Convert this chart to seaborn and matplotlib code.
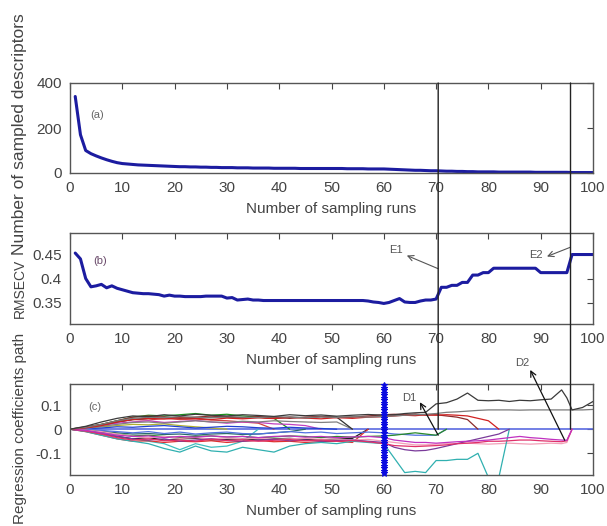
import numpy as np
import pandas as pd
import matplotlib
matplotlib.use("Agg")
import matplotlib.pyplot as plt
import seaborn as sns
from matplotlib.patches import ConnectionPatch

sns.set_theme(style="white")
plt.rcParams["font.family"] = ["Liberation Sans", "DejaVu Sans"]
plt.rcParams["axes.unicode_minus"] = False

# ---------------- data ----------------
runs = list(range(1, 101))

n_descriptors = [340, 170, 100, 86, 76, 67, 59, 52, 46, 42,
                 40, 38, 36, 35, 34, 33, 32, 31, 30, 29,
                 28, 28, 27, 27, 26, 26, 25, 25, 24, 24,
                 24, 23, 23, 23, 22, 22, 22, 22, 21, 21,
                 21, 21, 21, 20, 20, 20, 20, 20, 20, 20,
                 20, 20, 19, 19, 19, 19, 18, 18, 18, 18,
                 17, 16, 15, 14, 13, 12, 12, 11, 10, 10,
                 9, 8, 8, 7, 7, 6, 6, 5, 5, 5,
                 5, 4, 4, 4, 4, 4, 4, 4, 3, 3,
                 3, 3, 3, 3, 3, 2, 2, 2, 2, 2]

rmsecv = [0.452, 0.440, 0.400, 0.383, 0.385, 0.388, 0.381, 0.385, 0.380, 0.377,
          0.374, 0.371, 0.370, 0.369, 0.369, 0.368, 0.367, 0.364, 0.366, 0.364,
          0.364, 0.363, 0.363, 0.363, 0.363, 0.364, 0.364, 0.364, 0.364, 0.360,
          0.361, 0.356, 0.357, 0.358, 0.356, 0.356, 0.355, 0.355, 0.355, 0.355,
          0.355, 0.355, 0.355, 0.355, 0.355, 0.355, 0.355, 0.355, 0.355, 0.355,
          0.355, 0.355, 0.355, 0.355, 0.355, 0.355, 0.354, 0.352, 0.351, 0.349,
          0.351, 0.355, 0.359, 0.352, 0.351, 0.351, 0.354, 0.356, 0.356, 0.358,
          0.382, 0.382, 0.386, 0.386, 0.392, 0.392, 0.407, 0.407, 0.412, 0.412,
          0.421, 0.421, 0.421, 0.421, 0.421, 0.421, 0.421, 0.421, 0.421, 0.412,
          0.412, 0.412, 0.412, 0.412, 0.412, 0.449, 0.449, 0.449, 0.449, 0.449]

coef_runs = [0, 3, 6, 9, 12, 15, 18, 21, 24, 27, 30, 33, 36, 39, 42, 45, 48, 51, 54, 57, 60,
             62, 64, 66, 68, 70, 72, 74, 76, 78, 80, 82, 84, 86, 88, 90, 92, 94, 95, 96, 98, 100]

# surviving / late-eliminated coefficient paths
coef_a1 = [0, .012, .03, .045, .055, .052, .06, .055, .062, .058, .055, .06, .057, .053, .06, .056, .059, .054, .058, .061, .058,
           .06, .065, .068, .07, .105, .11, .125, .15, .12, .118, .12, .115, .12, .118, .122, .125, .163, .13, .08, .09, .115]
coef_a2 = [0, .008, .02, .035, .045, .05, .048, .052, .05, .047, .052, .05, .048, .052, .05, .047, .051, .049, .052, .05, .053,
           .055, .058, .06, .062, .065, .07, .072, .075, .078, .08, .08, .08, .079, .08, .08, .08, .08, .08, .08, .08, .082]
coef_a3 = [0, .005, .015, .03, .04, .045, .042, .048, .045, .04, .046, .043, .047, .044, .049, .046, .043, .048, .045, .05, .052,
           .055, .058, .056, .06, .058, .06, .058, .055, .045, .035, 0]
coef_a4 = [0, .01, .02, .035, .05, .055, .05, .045, .05, .055, .05, .047, .052, .05, .045, .05, .053, .048, .05, .055, .06,
           .062, .06, .063, .058, .06, .055, .05, .04, 0]
coef_b1 = [0, -.005, -.015, -.025, -.03, -.028, -.035, -.03, -.033, -.028, -.032, -.03, -.035, -.03, -.028, -.033, -.03, -.035, -.032, -.03, -.035,
           -.045, -.05, -.055, -.055, -.058, -.055, -.052, -.05, -.048, -.045, -.04, -.035, -.03, -.035, -.038, -.042, -.045, -.046, 0]
coef_b2 = [0, -.008, -.02, -.035, -.045, -.04, -.048, -.045, -.05, -.042, -.047, -.044, -.05, -.046, -.043, -.048, -.045, -.05, -.047, -.052, -.06,
           -.068, -.07, -.072, -.07, -.068, -.065, -.06, -.058, -.055, -.05, -.05, -.048, -.045, -.045, -.048, -.05, -.052, -.048, 0]
coef_b3 = [0, -.006, -.018, -.03, -.04, -.045, -.04, -.05, -.045, -.04, -.047, -.05, -.045, -.042, -.048, -.045, -.05, -.047, -.045, -.05, -.055,
           -.075, -.085, -.09, -.088, -.08, -.07, -.06, -.05, -.04, -.03, -.02, 0]
coef_b4 = [0, -.01, -.025, -.04, -.05, -.06, -.08, -.095, -.07, -.09, -.095, -.075, -.085, -.095, -.07, -.06, -.055, -.06, -.05, -.055, -.06,
           -.12, -.18, -.175, -.18, -.13, -.13, -.125, -.125, -.1, -.2, -.2, 0]
coef_b5 = [0, -.004, -.01, -.02, -.03, -.035, -.03, -.038, -.035, -.04, -.036, -.04, -.038, -.042, -.04, -.038, -.042, -.04, -.045, -.042, -.05,
           -.055, -.06, -.065, -.065, -.062, -.06, -.06, -.058, -.06, -.062, -.06, -.058, -.06, -.062, -.06, -.058, -.06, -.055, 0]
coef_b6 = [0, .003, -.005, -.01, -.015, -.01, -.018, -.012, -.02, -.015, -.012, -.018, -.02, -.015, -.01, -.015, -.012, -.018, -.015, -.012, -.015,
           -.02, -.022, -.025, -.025, -.025, 0]
coef_b7 = [0, -.005, -.012, -.02, -.028, -.025, -.03, -.035, -.03, -.028, -.033, -.03, -.035, -.032, -.028, -.03, -.035, -.03, -.033, -.03, -.028,
           -.025, -.02, -.015, -.02, -.025, 0]
# early-eliminated coefficient paths
coef_c1 = [0, .008, .02, .035, .05, .058, .055, .06, .065, .058, .062, .055, .05, .045, 0]
coef_c2 = [0, .006, .015, .025, .03, .035, .028, .032, .036, .03, .025, .03, .028, .022, .02, .015, 0]
coef_c3 = [0, .002, .005, .01, .008, .012, .015, .01, .005, .008, .012, .01, .006, .004, .008, .005, .003, 0]
coef_c4 = [0, -.008, -.02, -.03, -.04, -.035, -.045, -.04, -.038, -.045, -.042, -.04, -.045, -.04, -.038, -.042, -.045, -.04, -.038, 0]
coef_c5 = [0, -.01, -.025, -.04, -.05, -.048, -.055, -.05, -.052, -.048, -.055, -.05, -.047, -.052, -.05, -.055, -.052, -.05, -.055, 0]
coef_c6 = [0, .004, .01, .015, .02, .018, .022, .015, .01, .005, 0]
coef_c7 = [0, -.003, -.008, -.015, -.02, -.018, -.022, -.02, -.025, -.02, -.018, -.022, -.02, -.015, -.01, 0]
coef_c8 = [0, -.005, -.015, -.03, -.04, -.05, -.06, -.085, -.06, -.075, -.07, -.05, 0]
coef_c9 = [0, .004, .012, .02, .028, .03, .025, .03, .035, .03, .028, .033, .03, .035, .032, .03, .028, .03, 0]
coef_c10 = [0, .005, .015, .03, .04, .038, .045, .04, .042, .038, .035, .03, .025, 0]
coef_c11 = [0, .006, .018, .03, .04, .045, .05, .048, .045, .05, .052, .048, .05, .045, .05, .048, .052, .05, 0]

best_run = 60
jump_runs = [70.4, 95.7]

# ---------------- styles ----------------
path_series = {
    "c6": coef_c6, "c8": coef_c8, "c10": coef_c10, "c1": coef_c1, "c7": coef_c7,
    "c2": coef_c2, "c3": coef_c3, "c9": coef_c9, "c11": coef_c11, "c4": coef_c4,
    "c5": coef_c5, "b6": coef_b6, "b7": coef_b7, "b5": coef_b5, "b4": coef_b4,
    "b3": coef_b3, "b2": coef_b2, "b1": coef_b1, "a4": coef_a4, "a3": coef_a3,
    "a2": coef_a2, "a1": coef_a1,
}
palette = {
    "a1": "#3a3a3a", "a2": "#7a7a7a", "a3": "#d02020", "a4": "#8b2a2a",
    "b1": "#c030c0", "b2": "#e0306a", "b3": "#7a3a9a", "b4": "#30b0b0",
    "b5": "#f2a0b8", "b6": "#5070e0", "b7": "#2a8a2a",
    "c1": "#209020", "c2": "#c040c0", "c3": "#2040d0", "c4": "#202020",
    "c5": "#e03030", "c6": "#b0b030", "c7": "#2a6a6a", "c8": "#40c0c0",
    "c9": "#808080", "c10": "#d04040", "c11": "#303030",
}

rows = []
for name, vals in path_series.items():
    for r, v in zip(coef_runs[:len(vals)], vals):
        rows.append({"run": r, "coef": v, "path": name})
coef_df = pd.DataFrame(rows)
desc_df = pd.DataFrame({"run": runs, "n": n_descriptors})
rms_df = pd.DataFrame({"run": runs, "rmsecv": rmsecv})

W, H = 607, 526
fig = plt.figure(figsize=(W / 100, H / 100), dpi=100)
fig.patch.set_facecolor("white")


def axes_px(left, top, right, bottom):
    return fig.add_axes([left / W, 1 - bottom / H, (right - left) / W, (bottom - top) / H])


ax_a = axes_px(70, 83, 593, 173)
ax_b = axes_px(70, 233, 593, 324)
ax_c = axes_px(70, 384, 593, 475)

tick_col = "#444444"
line_col = "#1c1ca0"

for ax in (ax_a, ax_b, ax_c):
    ax.set_facecolor("white")
    ax.set_xlim(0, 100)
    ax.set_xticks(range(0, 101, 10))
    ax.tick_params(direction="in", top=True, right=True, length=4, width=0.8,
                   colors=tick_col, labelsize=11, pad=6)
    for s in ax.spines.values():
        s.set_color("#555555")
        s.set_linewidth(1.0)

# (a)
sns.lineplot(data=desc_df, x="run", y="n", ax=ax_a, color=line_col, lw=2.2,
             legend=False)
ax_a.set_ylim(0, 400)
ax_a.set_yticks([0, 200, 400])
ax_a.text(5.2, 258, "(a)", fontsize=8, color="#666666", ha="center", va="center")

# (b)
sns.lineplot(data=rms_df, x="run", y="rmsecv", ax=ax_b, color=line_col, lw=2.2,
             legend=False)
ax_b.set_ylim(0.307, 0.493)
ax_b.set_yticks([0.35, 0.4, 0.45])
ax_b.set_yticklabels(["0.35", "0.4", "0.45"])
ax_b.text(5.7, 0.436, "(b)", fontsize=8, color="#6a4a6a", ha="center", va="center")

# (c)
ax_c.axhline(0, color="#5a6ae0", lw=1.2, zorder=1.5)
sns.lineplot(data=coef_df, x="run", y="coef", hue="path", palette=palette,
             estimator=None, lw=0.9, ax=ax_c, legend=False, sort=False)
ax_c.set_ylim(-0.19, 0.1875)
ax_c.set_yticks([-0.1, 0, 0.1])
ax_c.set_yticklabels(["-0.1", "0", "0.1"])
ax_c.text(4.8, 0.092, "(c)", fontsize=8, color="#666666", ha="center", va="center")

ymark = np.linspace(-0.183, 0.183, 36)
ax_c.plot([best_run] * len(ymark), ymark, color="#0a0ae0", lw=2.0, marker="*",
          ms=5, mew=0.8, zorder=5, clip_on=False)

for ax in (ax_a, ax_b, ax_c):
    ax.set_ylabel("")
    ax.set_xlabel("Number of sampling runs", fontsize=11, color=tick_col, labelpad=5)

# vertical guide lines spanning the panels
for xr in jump_runs:
    con = ConnectionPatch(xyA=(xr, 400), coordsA=ax_a.transData,
                          xyB=(xr, 0), coordsB=ax_c.transData,
                          color="#222222", lw=1.0, zorder=6)
    fig.add_artist(con)

arrow_gray = dict(arrowstyle="->", color="#555555", lw=0.8, shrinkA=0, shrinkB=0,
                  mutation_scale=10)
arrow_dark = dict(arrowstyle="->", color="#111111", lw=0.9, shrinkA=0, shrinkB=0,
                  mutation_scale=10)

ax_b.annotate("", xy=(64.4, 0.447), xytext=(70.4, 0.42), arrowprops=arrow_gray)
ax_b.text(62.3, 0.458, "E1", fontsize=8, color="#555555", ha="center", va="center")
ax_b.annotate("", xy=(91.2, 0.445), xytext=(95.7, 0.464), arrowprops=arrow_gray,
              annotation_clip=False)
ax_b.text(89.0, 0.448, "E2", fontsize=8, color="#555555", ha="center", va="center")

ax_c.annotate("", xy=(66.9, 0.112), xytext=(70.4, -0.025), arrowprops=arrow_dark)
ax_c.text(64.8, 0.129, "D1", fontsize=8, color="#555555", ha="center", va="center")
ax_c.annotate("", xy=(88.0, 0.246), xytext=(94.6, -0.046), arrowprops=arrow_dark,
              annotation_clip=False)
ax_c.text(86.4, 0.275, "D2", fontsize=8, color="#555555", ha="center", va="center",
          clip_on=False)

# y labels
fig.text(20 / W, 1 - 134 / H, "Number of sampled descriptors", rotation=90,
         ha="center", va="center", fontsize=12.5, color=tick_col)
fig.text(20 / W, 1 - 288 / H, "RMSECV", rotation=90,
         ha="center", va="center", fontsize=10, color=tick_col)
fig.text(20 / W, 1 - 428 / H, "Regression coefficients path", rotation=90,
         ha="center", va="center", fontsize=11, color=tick_col)

fig.savefig("out.png", dpi=100, facecolor="white")
